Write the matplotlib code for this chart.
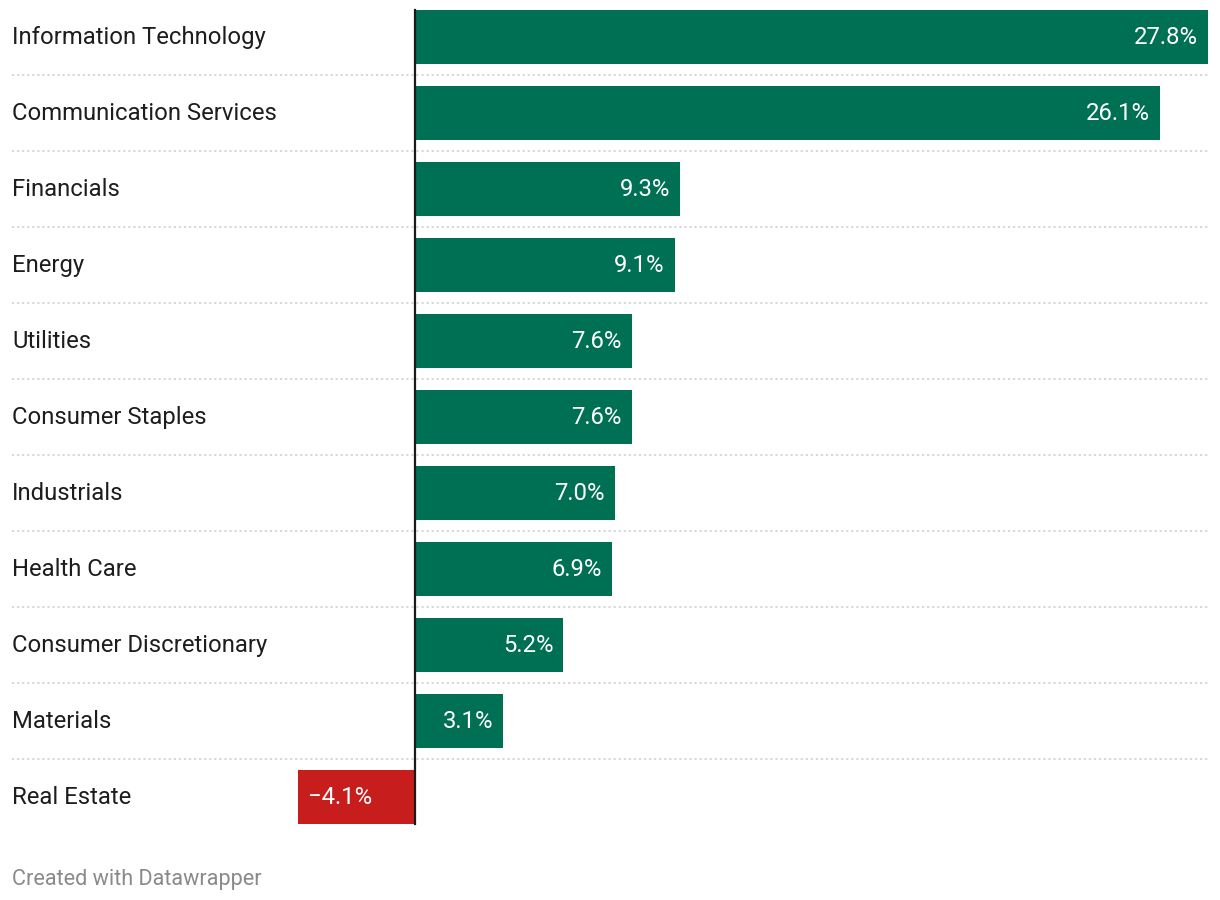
import matplotlib
matplotlib.use("Agg")
import matplotlib.pyplot as plt

categories = ["Information Technology", "Communication Services", "Financials", "Energy",
              "Utilities", "Consumer Staples", "Industrials", "Health Care",
              "Consumer Discretionary", "Materials", "Real Estate"]
values = [27.8, 26.1, 9.3, 9.1, 7.6, 7.6, 7.0, 6.9, 5.2, 3.1, -4.1]
labels = ["27.8%", "26.1%", "9.3%", "9.1%", "7.6%", "7.6%", "7.0%", "6.9%", "5.2%", "3.1%", "\u22124.1%"]

GREEN = "#007055"
RED = "#c71e1d"

W, H = 1220, 900
fig = plt.figure(figsize=(W / 100, H / 100), dpi=100)
plt.rcParams['font.family'] = ['Roboto', 'DejaVu Sans']

# pixel layout
left_px, right_px, zero_px = 12, 1208, 415
row_h = 76
first_center = 36.75
n = len(categories)
top_px = first_center - row_h / 2
bot_px = first_center + row_h * (n - 0.5)

ax = fig.add_axes([left_px / W, 1 - bot_px / H, (right_px - left_px) / W, (bot_px - top_px) / H])
vmax = max(values)
scale = (right_px - zero_px) / vmax
ax.set_xlim(-(zero_px - left_px) / scale, vmax)
ax.set_ylim(n - 0.5, -0.5)
ax.axis("off")

bar_h = 53.5 / row_h
ys = list(range(n))
colors = [GREEN if v >= 0 else RED for v in values]
ax.barh(ys, values, height=bar_h, color=colors, zorder=2)

# dotted separators
for k in range(n - 1):
    ax.plot([ax.get_xlim()[0], vmax], [k + 0.5, k + 0.5], color="#d4d4d4", lw=1.3,
            linestyle=(0, (1.2, 1.6)), zorder=1, solid_capstyle="butt")

# zero line
ax.plot([0, 0], [-bar_h / 2, n - 1 + bar_h / 2], color="#1a1a1a", lw=1.6, zorder=3)

pad = 10 / scale
dy = 1.2 / row_h
for y, v, lab, cat in zip(ys, values, labels, categories):
    ax.text(ax.get_xlim()[0], y + dy, cat, ha="left", va="center", fontsize=17.2, color="#1d1d1d")
    if v >= 0:
        ax.text(v - pad, y + dy, lab, ha="right", va="center", fontsize=17.2, color="white", zorder=4)
    else:
        ax.text(v + pad, y + dy, lab, ha="left", va="center", fontsize=17.2, color="white", zorder=4)

fig.text(12 / W, 1 - 879 / H, "Created with Datawrapper", ha="left", va="center",
         fontsize=15.6, color="#8a8a8a")

fig.savefig("out.png", dpi=100, facecolor="white")
